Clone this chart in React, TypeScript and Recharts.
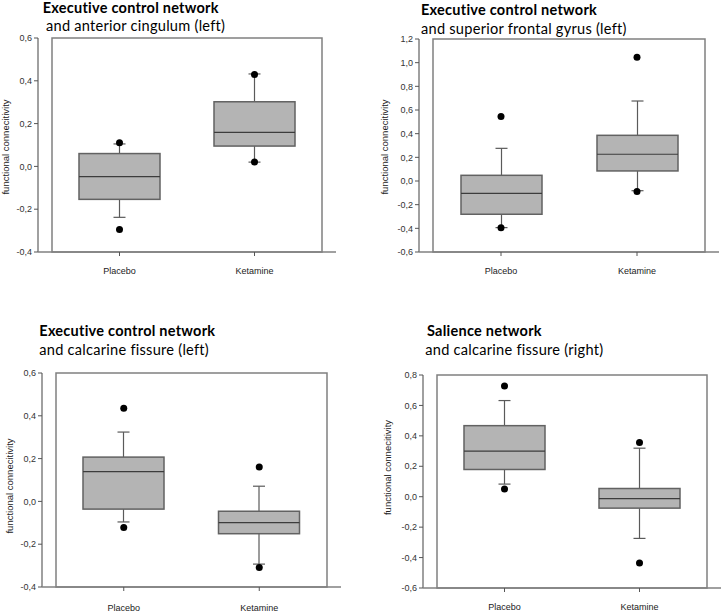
import React from 'react';
import { ComposedChart, Bar, Scatter, XAxis, YAxis, ReferenceArea } from 'recharts';

const categories = ['Placebo', 'Ketamine'];

// Panel A – Executive control network and anterior cingulum (left)
const acgLowerWhisker = [-0.238, 0.02];
const acgQ1 = [-0.154, 0.095];
const acgMedian = [-0.048, 0.159];
const acgQ3 = [0.06, 0.302];
const acgUpperWhisker = [0.105, 0.432];
const acgOutlierHigh = [0.11, 0.43];
const acgOutlierLow = [-0.295, 0.02];

// Panel B – Executive control network and superior frontal gyrus (left)
const sfgLowerWhisker = [-0.394, -0.082];
const sfgQ1 = [-0.281, 0.085];
const sfgMedian = [-0.104, 0.226];
const sfgQ3 = [0.048, 0.386];
const sfgUpperWhisker = [0.276, 0.676];
const sfgOutlierHigh = [0.545, 1.045];
const sfgOutlierLow = [-0.395, -0.088];

// Panel C – Executive control network and calcarine fissure (left)
const calLLowerWhisker = [-0.096, -0.293];
const calLQ1 = [-0.036, -0.151];
const calLMedian = [0.139, -0.099];
const calLQ3 = [0.207, -0.046];
const calLUpperWhisker = [0.324, 0.071];
const calLOutlierHigh = [0.435, 0.161];
const calLOutlierLow = [-0.122, -0.309];

// Panel D – Salience network and calcarine fissure (right)
const calRLowerWhisker = [0.083, -0.274];
const calRQ1 = [0.179, -0.075];
const calRMedian = [0.299, -0.012];
const calRQ3 = [0.467, 0.054];
const calRUpperWhisker = [0.632, 0.319];
const calROutlierHigh = [0.728, 0.356];
const calROutlierLow = [0.05, -0.436];

const ticksA = [-0.4, -0.2, 0, 0.2, 0.4, 0.6];
const ticksB = [-0.6, -0.4, -0.2, 0, 0.2, 0.4, 0.6, 0.8, 1.0, 1.2];
const ticksC = [-0.6, -0.4, -0.2, 0, 0.2, 0.4, 0.6, 0.8];

const yLabel = 'functional connecitivity';

const FRAME = '#808080';
const BOX_FILL = '#b4b4b4';
const BOX_STROKE = '#626262';
const WHISKER = '#5a5a5a';
const TICK_FONT = '"Liberation Sans", Arial, sans-serif';
const TITLE_FONT = 'Lato, "Open Sans", sans-serif';

function buildData(lw: number[], q1: number[], med: number[], q3: number[], uw: number[], hi: number[], lo: number[]) {
  return categories.map((name, i) => ({
    name,
    range: [lw[i], uw[i]],
    lw: lw[i],
    q1: q1[i],
    med: med[i],
    q3: q3[i],
    uw: uw[i],
    hi: hi[i],
    lo: lo[i],
  }));
}

const fmt = (v: number) => (Math.abs(v) < 1e-9 ? '0,0' : v.toFixed(1).replace('.', ','));

const BoxShape = (props: any) => {
  const { x, y, width, height, payload } = props;
  if (!payload) return null;
  const top = Math.min(y, y + height);
  const h = Math.abs(height);
  const lo = payload.lw;
  const hi = payload.uw;
  const py = (v: number) => top + ((hi - v) / (hi - lo)) * h;
  const cx = x + width / 2;
  const cap = 6;
  return (
    <g>
      <line x1={cx} x2={cx} y1={py(hi)} y2={py(payload.q3)} stroke={WHISKER} strokeWidth={1.2} />
      <line x1={cx} x2={cx} y1={py(payload.q1)} y2={py(lo)} stroke={WHISKER} strokeWidth={1.2} />
      <line x1={cx - cap} x2={cx + cap} y1={py(hi)} y2={py(hi)} stroke={WHISKER} strokeWidth={1.2} />
      <line x1={cx - cap} x2={cx + cap} y1={py(lo)} y2={py(lo)} stroke={WHISKER} strokeWidth={1.2} />
      <rect
        x={x}
        y={py(payload.q3)}
        width={width}
        height={py(payload.q1) - py(payload.q3)}
        fill={BOX_FILL}
        stroke={BOX_STROKE}
        strokeWidth={1.5}
      />
      <line x1={x} x2={x + width} y1={py(payload.med)} y2={py(payload.med)} stroke="#3c3c3c" strokeWidth={1.2} />
    </g>
  );
};

const Dot = (props: any) => {
  const { cx, cy } = props;
  if (cx == null || cy == null) return null;
  return <circle cx={cx} cy={cy} r={3.5} fill="#000" />;
};

type PanelProps = {
  left: number;
  top: number;
  width: number;
  height: number;
  margin: { top: number; right: number; bottom: number; left: number };
  data: any[];
  ticks: number[];
  tickMargin: number;
};

function Panel({ left, top, width, height, margin, data, ticks, tickMargin }: PanelProps) {
  const domain = [ticks[0], ticks[ticks.length - 1]];
  return (
    <div style={{ position: 'absolute', left, top, width, height }}>
      <ComposedChart width={width} height={height} data={data} margin={margin}>
        <XAxis
          dataKey="name"
          type="category"
          padding={{ left: 14, right: 14 }}
          axisLine={{ stroke: FRAME, strokeWidth: 1.5 }}
          tickLine={{ stroke: '#555' }}
          tickSize={4}
          tickMargin={tickMargin}
          height={25}
          tick={{ fontSize: 9, fill: '#222', fontFamily: TICK_FONT }}
          interval={0}
        />
        <YAxis
          type="number"
          domain={domain}
          ticks={ticks}
          interval={0}
          tickFormatter={fmt}
          width={30}
          axisLine={{ stroke: FRAME, strokeWidth: 1.5 }}
          tickLine={{ stroke: '#555' }}
          tickSize={4}
          tickMargin={2}
          tick={{ fontSize: 9, fill: '#333', fontFamily: TICK_FONT }}
        />
        <ReferenceArea
          y1={domain[0]}
          y2={domain[1]}
          fill="none"
          fillOpacity={0}
          stroke={FRAME}
          strokeWidth={1.5}
          strokeOpacity={1}
          ifOverflow="visible"
        />
        <Bar dataKey="range" barSize={81} shape={<BoxShape />} isAnimationActive={false} />
        <Scatter dataKey="hi" shape={<Dot />} isAnimationActive={false} />
        <Scatter dataKey="lo" shape={<Dot />} isAnimationActive={false} />
      </ComposedChart>
    </div>
  );
}

const dataA = buildData(acgLowerWhisker, acgQ1, acgMedian, acgQ3, acgUpperWhisker, acgOutlierHigh, acgOutlierLow);
const dataB = buildData(sfgLowerWhisker, sfgQ1, sfgMedian, sfgQ3, sfgUpperWhisker, sfgOutlierHigh, sfgOutlierLow);
const dataC = buildData(calLLowerWhisker, calLQ1, calLMedian, calLQ3, calLUpperWhisker, calLOutlierHigh, calLOutlierLow);
const dataD = buildData(calRLowerWhisker, calRQ1, calRMedian, calRQ3, calRUpperWhisker, calROutlierHigh, calROutlierLow);

const titles = [
  { x: 42.7, y: 13, line1: 'Executive control network', x2: 46, y2: 30.8, line2: 'and anterior cingulum (left)' },
  { x: 421, y: 14.5, line1: 'Executive control network', x2: 421, y2: 33.5, line2: 'and superior frontal gyrus (left)' },
  { x: 39.3, y: 335.5, line1: 'Executive control network', x2: 39.3, y2: 354.5, line2: 'and calcarine fissure (left)' },
  { x: 427, y: 335.5, line1: 'Salience network', x2: 425.3, y2: 354.5, line2: 'and calcarine fissure (right)' },
];

const yLabels = [
  { x: 9, y: 147 },
  { x: 387.5, y: 147 },
  { x: 13, y: 486 },
  { x: 391, y: 467.5 },
];

export default function App() {
  return (
    <div style={{ position: 'absolute', left: 0, top: 0, width: 724, height: 614, background: '#fff', overflow: 'hidden' }}>
      <Panel
        left={0}
        top={0}
        width={362}
        height={300}
        margin={{ top: 38, right: 26, bottom: 23, left: 8 }}
        data={dataA}
        ticks={ticksA}
        tickMargin={12}
      />
      <Panel
        left={362}
        top={0}
        width={362}
        height={300}
        margin={{ top: 39, right: 5, bottom: 23, left: 27 }}
        data={dataB}
        ticks={ticksB}
        tickMargin={12}
      />
      <Panel
        left={0}
        top={300}
        width={362}
        height={314}
        margin={{ top: 73, right: 21, bottom: 2, left: 12 }}
        data={dataC}
        ticks={ticksA}
        tickMargin={14}
      />
      <Panel
        left={362}
        top={300}
        width={362}
        height={314}
        margin={{ top: 75, right: 3, bottom: 1, left: 31 }}
        data={dataD}
        ticks={ticksC}
        tickMargin={12}
      />
      <svg width={724} height={614} style={{ position: 'absolute', left: 0, top: 0, pointerEvents: 'none' }}>
        {titles.map((t, i) => (
          <g key={i}>
            <text x={t.x} y={t.y} fontFamily={TITLE_FONT} fontWeight={700} fontSize={14.5} letterSpacing={0.25} fill="#000">
              {t.line1}
            </text>
            <text x={t.x2} y={t.y2} fontFamily={TITLE_FONT} fontSize={14.6} letterSpacing={0.25} fill="#000">
              {t.line2}
            </text>
          </g>
        ))}
        {yLabels.map((l, i) => (
          <text
            key={i}
            x={l.x}
            y={l.y}
            transform={`rotate(-90 ${l.x} ${l.y})`}
            textAnchor="middle"
            fontFamily={TICK_FONT}
            fontSize={9.5}
            fill="#222"
          >
            {yLabel}
          </text>
        ))}
      </svg>
    </div>
  );
}
